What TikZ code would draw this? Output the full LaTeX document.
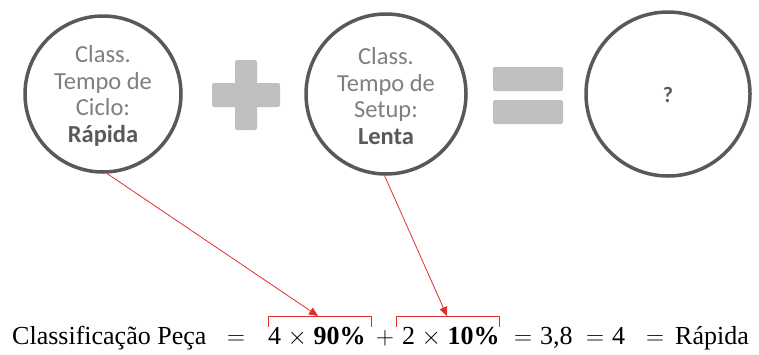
\documentclass[tikz,border=0pt]{standalone}
\usepackage{fontspec}
\setmainfont{Liberation Serif}
\newfontfamily\calfont{Carlito}
\usetikzlibrary{arrows.meta}
\definecolor{ringgray}{HTML}{595959}
\definecolor{txtgray}{HTML}{7F7F7F}
\definecolor{symgray}{HTML}{BFBFBF}
\definecolor{arrred}{HTML}{E0302E}
\begin{document}
\begin{tikzpicture}[x=1pt,y=-1pt,
  ring/.style={circle,draw=ringgray,line width=3.5pt,fill=white,inner sep=0pt},
  ringtext/.style={align=center,text=txtgray,font=\calfont\fontsize{24.5}{26.8}\selectfont,inner sep=0pt},
  symbar/.style={fill=symgray,draw=none,rounded corners=2pt},
  redarrow/.style={draw=arrred,line width=0.8pt,-{Triangle[length=9pt,width=8pt]}},
  bracket/.style={draw=arrred,line width=0.8pt},
  eq/.style={anchor=base west,inner sep=0pt,font=\fontsize{26}{30}\selectfont}]
\useasboundingbox (0,0) rectangle (759,354);
% circles
\node[ring,minimum size=156pt] (c1) at (103,94) {};
\node[ring,minimum size=160pt] (c2) at (386,94) {};
\node[ring,minimum size=164pt] (c3) at (668,94) {};
\node[ringtext] (t1) at (103,96) {Class.\\Tempo de\\Ciclo:\\\textbf{\color{ringgray}Rápida}};
\node[ringtext] (t2) at (386,96) {Class.\\Tempo de\\Setup:\\\textbf{\color{ringgray}Lenta}};
\node[text=ringgray,inner sep=0pt] (t3) at (668,95) {\calfont\bfseries\fontsize{22}{26}\selectfont ?};
% plus
\fill[symbar] (235,60) rectangle (257,130);
\fill[symbar] (212,83) rectangle (280,107);
% equals
\fill[symbar] (493,67) rectangle (563,91);
\fill[symbar] (493,100) rectangle (563,124);
% formula
\node[eq] (f1) at (12,344) {Classificação Peça};
\node[eq] (f2) at (227,344) {$=$};
\node[eq] (f3) at (268,344) {4 $\times$ \textbf{90\%}};
\node[eq] (f4) at (376,344) {$+$};
\node[eq] (f5) at (402,344) {2 $\times$ \textbf{10\%}};
\node[eq] (f6) at (514,344) {$=$};
\node[eq] (f7) at (540,344) {3,8};
\node[eq] (f8) at (586,344) {$=$};
\node[eq] (f9) at (612,344) {4};
\node[eq] (f10) at (646,344) {$=$};
\node[eq] (f11) at (675,344) {Rápida};
% brackets
\coordinate (b1a) at (268,327);
\coordinate (b1b) at (371,327);
\coordinate (b2a) at (396,327);
\coordinate (b2b) at (499,327);
\draw[bracket] (b1a) -- ++(0,-11) -| (b1b);
\draw[bracket] (b2a) -- ++(0,-11) -| (b2b);
% arrows
\coordinate (a1) at (318,316);
\coordinate (a2) at (447,316);
\draw[redarrow] (c1.-87) -- (a1);
\draw[redarrow] (c2.-91) -- (a2);
\end{tikzpicture}
\end{document}
